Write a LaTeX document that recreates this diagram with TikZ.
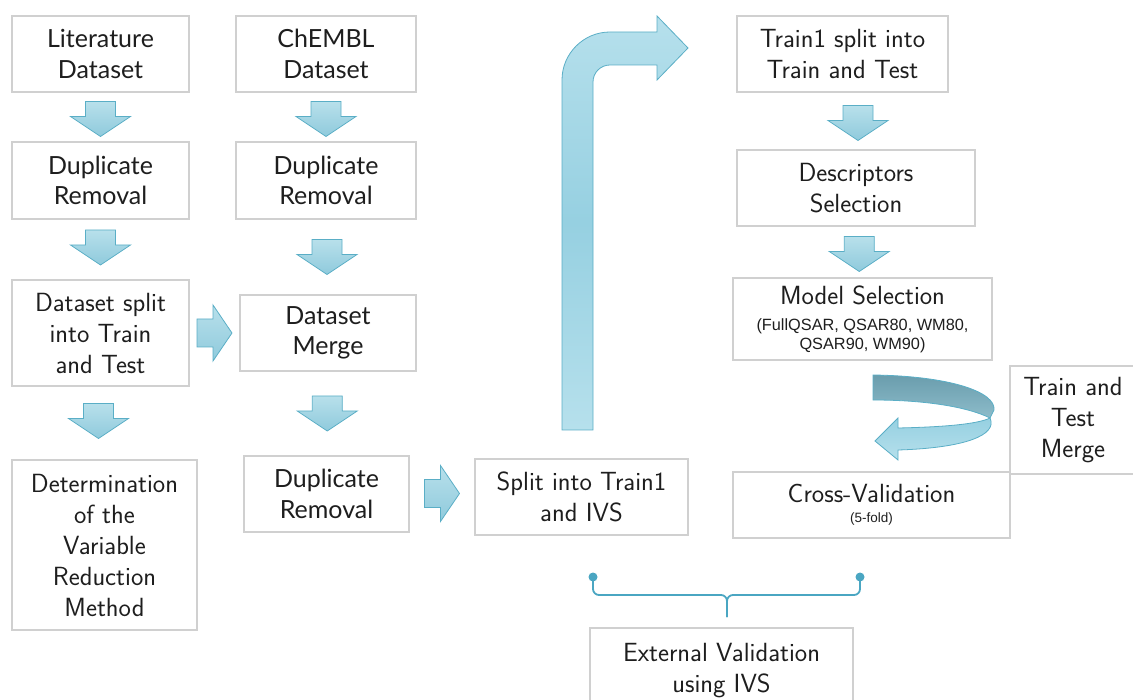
\documentclass[tikz,border=0pt]{standalone}
\usepackage{fontspec}
\newfontfamily\lato{Lato}
\newfontfamily\arialf{Liberation Sans}
\usetikzlibrary{calc}
\definecolor{boxline}{HTML}{D0D0D0}
\definecolor{txt}{HTML}{1E1E1E}
\definecolor{arrline}{HTML}{5AAEC6}
\definecolor{arrtop}{HTML}{B8E0EB}
\definecolor{arrbot}{HTML}{8FCADC}
\definecolor{ribtop}{HTML}{6A9DAD}
\definecolor{ribbot}{HTML}{8DBCCA}
\definecolor{ligtop}{HTML}{96D0E1}
\definecolor{ligbot}{HTML}{B6E0EC}
\definecolor{bracec}{HTML}{4AA6C2}
\begin{document}
\begin{tikzpicture}[x=1pt,y=-1pt,
  box/.style={draw=boxline, line width=2.7pt, fill=white, text=txt, align=center, inner sep=0pt, outer sep=0pt},
  latofont/.style={font=\lato\fontsize{25}{30.5}\selectfont},
  cmfont/.style={font=\sffamily\fontsize{26.3}{31}\selectfont},
  blockarrow/.style={draw=arrline, line width=0.8pt, top color=arrtop, bottom color=arrbot},
  darr/.pic={\path[blockarrow] (-15,-17.5) -- (15,-17.5) -- (15,-2.5) -- (30,-2.5) -- (0,17.5) -- (-30,-2.5) -- (-15,-2.5) -- cycle;},
  rarr/.pic={\path[blockarrow] (-17.5,-14) -- (-1.5,-14) -- (-1.5,-28) -- (17.5,0) -- (-1.5,28) -- (-1.5,14) -- (-17.5,14) -- cycle;}
]
\useasboundingbox (0,0) rectangle (1133,700);

% left column
\node[box, latofont, minimum width=177, minimum height=76] (lit) at (100.5,54) {Literature\\Dataset};
\node[box, latofont, minimum width=177, minimum height=77] (dup1) at (100.5,180.5) {Duplicate\\Removal};
\node[box, cmfont, minimum width=177, minimum height=106] (split) at (100.5,333) {Dataset split\\into Train\\and Test};
\node[box, cmfont, minimum width=185, minimum height=170] (det) at (104.5,545) {Determination\\of the\\Variable\\Reduction\\Method};

% second column
\node[box, latofont, minimum width=180, minimum height=76] (chembl) at (326,54) {ChEMBL\\Dataset};
\node[box, latofont, minimum width=180, minimum height=77] (dup2) at (326,180.5) {Duplicate\\Removal};
\node[box, latofont, minimum width=176, minimum height=76] (merge) at (328,333) {Dataset\\Merge};
\node[box, latofont, minimum width=165, minimum height=76] (dup3) at (326.5,494) {Duplicate\\Removal};

% middle
\node[box, cmfont, minimum width=213, minimum height=76] (split1) at (581.5,497) {Split into Train1\\and IVS};
\node[box, cmfont, minimum width=263, minimum height=86] (ext) at (721.5,671) {External Validation\\using IVS};

% right column
\node[box, cmfont, minimum width=211, minimum height=76] (t1split) at (842.5,54) {Train1 split into\\Train and Test};
\node[box, cmfont, minimum width=238, minimum height=76] (desc) at (856,188) {Descriptors\\Selection};
\node[box, text=txt, align=center, minimum width=259, minimum height=82, font=\arialf\fontsize{16.3}{18.5}\selectfont] (model) at (862.5,319)
  {{\sffamily\fontsize{26.3}{31}\selectfont Model Selection}\\[8pt](FullQSAR, QSAR80, WM80,\\QSAR90, WM90)};
\node[box, cmfont, minimum width=126, minimum height=108] (ttm) at (1073,420) {Train and\\Test\\Merge};
\node[box, text=txt, align=center, minimum width=277, minimum height=66, font=\arialf\fontsize{13.5}{14}\selectfont] (cv) at (871.5,505)
  {{\sffamily\fontsize{26.3}{31}\selectfont Cross-Validation}\\[6pt](5-fold)};

% block arrows
\pic at ($(lit.south)!0.5!(dup1.north)+(0,2)$) {darr};
\pic at ($(chembl.south)!0.5!(dup2.north)+(0,2)$) {darr};
\pic at ($(dup1.south)!0.5!(split.north)+(0,-2)$) {darr};
\pic at ($(dup2.south)!0.5!(merge.north)$) {darr};
\pic at ($(split.south)!0.5!(det.north)+(-4,-2)$) {darr};
\pic at ($(merge.south)!0.5!(dup3.north)$) {darr};
\pic at ($(desc.north)!0.5!(desc.north|-t1split.south)+(2,2)$) {darr};
\pic at ($(desc.south)!0.5!(model.north)+(0,2)$) {darr};
\pic at ($(split.east)!0.5!(merge.west)$) {rarr};
\pic at ($(dup3.east)!0.5!(split1.west)+(0,-2)$) {rarr};

% bent arrow from split1 up to t1split
\path[draw=arrline, line width=0.8pt, top color=ligbot, bottom color=ligbot, middle color=ligtop]
  (562,430) -- (562,80) .. controls (562,53.5) and (583.5,32) .. (610,32)
  -- (657,32) -- (657,16) -- (688,48) -- (657,80) -- (657,65) -- (610,65)
  .. controls (600.6,65) and (593,72.6) .. (593,82) -- (593,430) -- cycle;

% U-turn ribbon arrow
\path[draw=arrline, line width=0.8pt, top color=ribtop, bottom color=ribbot]
  (873,375) .. controls (950,376) and (996,392) .. (994,410) -- (990,418)
  .. controls (970,408) and (930,400) .. (873,400) -- cycle;
\path[draw=arrline, line width=0.8pt, top color=ligtop, bottom color=ligbot]
  (990,418) .. controls (998,435) and (965,448) .. (898,450) -- (898,460) -- (875,441)
  -- (898,418) -- (898,428) .. controls (945,427) and (978,424) .. (990,418) -- cycle;

% brace
\coordinate (bl) at (593,577);
\coordinate (br) at (860,577);
\coordinate (bm) at (727,617);
\draw[bracec, line width=1.8pt, rounded corners=6pt] (bl) -- (bl|-0,595) -- (bm|-0,595) -- (bm);
\draw[bracec, line width=1.8pt, rounded corners=6pt] (br) -- (br|-0,595) -- (bm|-0,595) -- (bm);
\fill[bracec] (bl) circle (4.5);
\fill[bracec] (br) circle (4.5);
\end{tikzpicture}
\end{document}
